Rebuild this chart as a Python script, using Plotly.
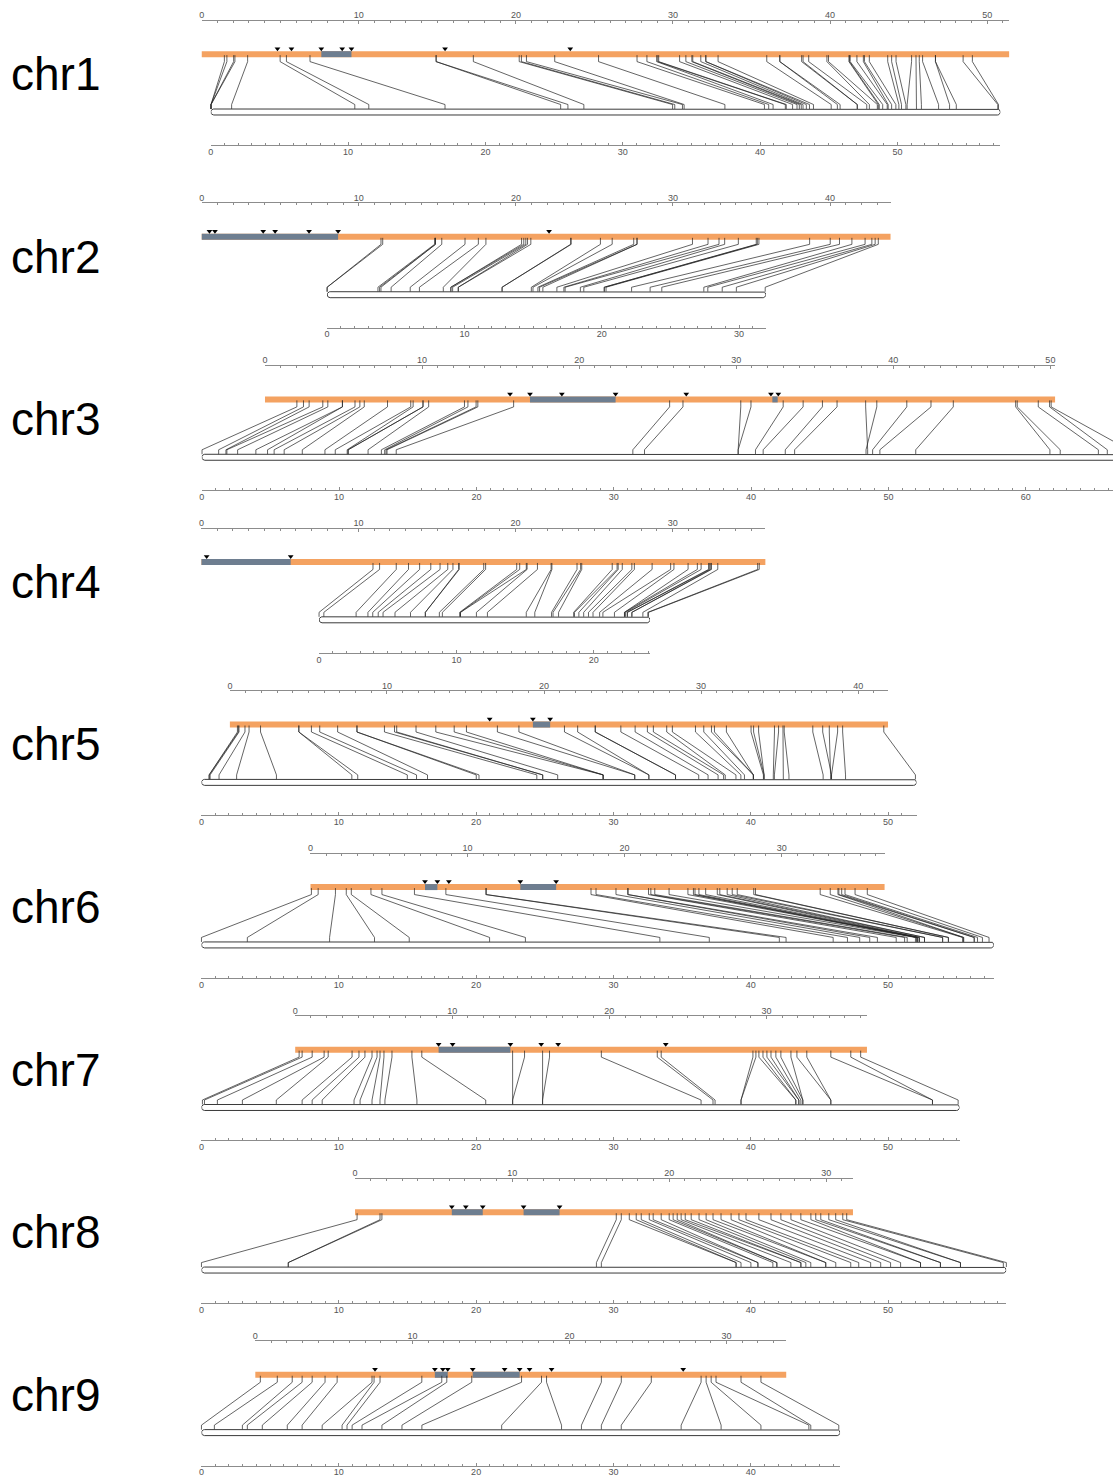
import math
import plotly.graph_objects as go

W, H = 1113, 1477
PX_MB = 15.75   # pixels per Mb on the physical rulers
PX_CM = 13.77   # pixels per cM on the genetic rulers

FONT = "Liberation Sans, Arial, Helvetica, sans-serif"
ORANGE = "#F4A261"
GAP = "#6E7E90"
LINK = "rgba(35,35,35,0.78)"
RULER = "#8c8c8c"

names = ["chr1", "chr2", "chr3", "chr4", "chr5", "chr6", "chr7", "chr8", "chr9"]

# physical length (Mb) and genetic length (cM) of each chromosome
phys_len = [51.4, 43.85, 50.3, 35.9, 41.9, 36.55, 36.4, 31.7, 33.8]
gen_len = [57.5, 31.95, 67.5, 24.1, 52.07, 57.7, 55.2, 58.6, 46.5]

# ---- marker positions: physical (Mb) paired with genetic (cM) ----
chr1_mb = [1.44, 1.60, 2.03, 2.11, 2.92, 4.99, 5.39, 6.89, 14.92, 14.92, 17.29, 20.21, 20.35, 20.67,
           22.47, 25.26, 27.71, 28.34, 28.96, 29.03, 29.09, 30.42, 30.82, 31.20, 31.26, 31.77, 32.09,
           32.09, 32.87, 35.97, 36.80, 36.80, 38.19, 38.28, 38.64, 39.80, 39.90, 41.20, 41.24, 41.28,
           41.71, 42.12, 42.19, 42.50, 43.67, 43.92, 44.20, 45.19, 45.47, 45.68, 45.89, 46.71, 46.71,
           48.47, 49.06]
chr1_cm = [0.02, 0.02, 0.02, 0.02, 1.52, 10.49, 11.51, 17.06, 25.48, 26.01, 27.17, 33.63, 33.79, 34.35,
           34.47, 37.44, 40.32, 40.63, 40.95, 41.84, 41.91, 42.37, 42.69, 42.86, 43.00, 43.13, 43.37,
           43.60, 43.89, 45.18, 45.63, 45.83, 47.08, 47.08, 47.77, 47.96, 48.54, 48.61, 48.68, 48.93,
           49.26, 49.33, 49.58, 49.89, 50.11, 50.30, 50.62, 50.71, 51.39, 51.75, 53.00, 53.80, 54.29,
           57.31, 57.36]
chr1_gaps = [[7.61, 9.53]]
chr1_tri = [4.82, 5.71, 7.61, 8.94, 9.53, 15.49, 23.46]

chr2_mb = [11.41, 11.52, 14.82, 14.88, 14.88, 15.28, 16.76, 17.61, 18.09, 20.36, 20.50, 20.63, 20.74,
           20.95, 23.48, 23.52, 25.38, 26.13, 27.50, 27.71, 27.71, 31.24, 32.23, 32.93, 33.29, 34.16,
           35.30, 35.37, 35.47, 38.70, 40.01, 40.60, 41.39, 42.23, 42.66, 42.87, 43.07]
chr2_cm = [0.0, 0.0, 3.70, 3.82, 3.92, 4.66, 6.05, 6.72, 8.46, 9.01, 9.01, 9.14, 9.55,
           9.55, 12.74, 12.74, 14.87, 14.99, 15.35, 15.47, 15.71, 16.73, 17.24, 17.33, 18.44, 18.69,
           20.18, 20.18, 20.31, 22.17, 23.52, 24.37, 27.43, 27.72, 28.77, 29.80, 31.90]
chr2_gaps = [[0.0, 8.68]]
chr2_tri = [0.49, 0.84, 3.91, 4.67, 6.83, 8.68, 22.11]

chr3_mb = [2.03, 2.45, 2.81, 3.68, 4.00, 4.93, 4.93, 5.73, 6.04, 6.32, 7.80, 9.28, 9.43, 10.06, 10.06,
           10.42, 12.70, 12.92, 13.44, 13.55, 15.83, 25.76, 26.61, 30.29, 30.94, 32.99, 34.26, 35.49,
           36.42, 38.24, 38.95, 40.86, 42.40, 43.82, 47.79, 47.89, 49.23, 49.95, 50.05]
chr3_cm = [0.02, 1.23, 1.76, 1.83, 2.61, 3.94, 4.79, 5.27, 6.00, 7.32, 8.97, 9.72, 10.59, 10.66, 10.66,
           12.11, 13.08, 13.32, 13.42, 13.49, 14.16, 31.39, 32.24, 39.06, 39.06, 40.32, 40.88, 42.49,
           43.17, 48.49, 48.37, 48.85, 49.38, 51.99, 61.76, 62.51, 65.29, 65.94, 67.50]
chr3_gaps = [[16.87, 22.32], [32.30, 32.64]]
chr3_tri = [15.60, 16.87, 18.90, 22.32, 26.82, 32.21, 32.68]

chr4_mb = [10.92, 11.34, 12.40, 13.18, 13.89, 14.60, 15.19, 15.68, 16.01, 16.37, 16.41, 17.97, 18.09,
           20.07, 20.26, 20.68, 20.73, 21.39, 22.26, 22.31, 23.91, 24.14, 24.21, 26.15, 26.46, 26.53,
           26.79, 27.40, 27.56, 28.69, 29.87, 30.08, 30.98, 31.57, 31.81, 32.28, 32.35, 32.42, 32.47,
           32.87, 35.41, 35.51]
chr4_cm = [0.0, 0.35, 2.70, 3.56, 3.91, 4.31, 4.66, 5.53, 6.66, 7.74, 7.74, 8.76, 8.98,
           10.24, 10.30, 10.30, 11.46, 12.26, 15.09, 15.71, 16.93, 17.04, 17.44, 18.54, 18.60, 18.92,
           19.27, 19.62, 19.95, 20.43, 20.67, 21.51, 22.24, 22.24, 22.32, 22.45, 22.45, 22.78, 22.78,
           23.58, 23.94, 23.99]
chr4_gaps = [[0.0, 5.68]]
chr4_tri = [0.33, 5.68]

chr5_mb = [0.48, 0.54, 0.58, 0.96, 1.22, 1.95, 4.39, 4.39, 5.19, 5.72, 6.86, 8.09, 8.09, 9.84, 10.48,
           10.62, 11.85, 13.11, 14.28, 15.06, 17.03, 18.40, 21.30, 22.14, 23.26, 23.26, 24.89, 25.80,
           26.58, 26.96, 27.81, 28.17, 29.64, 30.17, 30.66, 30.85, 31.61, 33.18, 33.34, 33.66, 34.67,
           34.93, 35.21, 35.29, 37.11, 37.74, 38.16, 38.69, 39.01, 41.63]
chr5_cm = [0.56, 0.56, 0.63, 1.28, 2.56, 5.46, 10.95, 11.38, 14.99, 15.66, 16.46, 20.01, 20.21, 24.42,
           24.85, 24.85, 25.94, 29.25, 29.25, 29.25, 31.55, 31.55, 32.58, 32.58, 34.52, 34.52, 36.21,
           36.89, 37.62, 38.02, 38.14, 38.92, 39.28, 39.54, 40.19, 40.19, 40.19, 40.92, 40.97, 40.97,
           41.64, 41.72, 42.37, 42.78, 45.27, 45.88, 45.81, 45.88, 46.90, 51.99]
chr5_gaps = [[19.29, 20.39]]
chr5_tri = [16.54, 19.29, 20.39]

chr6_mb = [0.06, 0.49, 1.59, 2.28, 2.60, 3.85, 4.55, 6.62, 8.62, 11.16, 11.20, 17.86, 18.18, 19.45,
           20.19, 20.23, 21.52, 21.67, 21.92, 22.83, 24.03, 24.38, 24.48, 24.73, 25.16, 25.90, 26.06,
           26.53, 26.85, 27.17, 28.22, 28.33, 32.45, 33.09, 33.58, 33.64, 33.82, 34.03, 34.67, 35.45]
chr6_cm = [0.0, 3.34, 9.33, 12.60, 15.13, 20.98, 23.59, 33.38, 36.98, 42.08, 42.57, 46.00, 47.04, 47.93,
           48.66, 49.22, 50.59, 51.20, 51.39, 51.99, 52.09, 52.09, 52.16, 52.16, 52.28, 52.28, 52.65,
           52.65, 53.97, 53.97, 54.39, 54.39, 55.42, 55.50, 55.50, 56.27, 56.27, 56.51, 56.87, 57.35]
chr6_gaps = [[7.29, 8.08], [13.36, 15.64]]
chr6_tri = [7.29, 8.08, 8.81, 13.36, 15.64]

chr7_mb = [0.25, 0.44, 1.08, 1.84, 2.10, 3.62, 4.06, 4.44, 4.89, 5.21, 5.40, 5.65, 6.16, 7.43, 8.06,
           13.84, 14.60, 15.75, 16.19, 19.49, 23.05, 23.30, 29.14, 29.33, 29.52, 29.78, 30.03,
           30.29, 30.60, 30.92, 31.56, 31.94, 32.57, 34.10, 35.37, 36.00]
chr7_cm = [0.07, 0.22, 1.16, 2.98, 5.45, 7.33, 8.06, 8.79, 11.11, 11.55, 12.42, 13.00, 13.36, 15.69,
           20.70, 22.66, 22.66, 24.84, 24.84, 36.38, 37.25, 37.40, 39.29, 39.29, 43.28, 43.28,
           43.50, 43.50, 43.65, 43.79, 43.79, 45.83, 45.83, 53.23, 53.23, 55.10]
chr7_gaps = [[9.13, 13.70]]
chr7_tri = [9.13, 10.02, 13.70, 15.66, 16.74, 23.59]

chr8_mb = [0.13, 1.59, 1.71, 16.63, 16.95, 17.46, 17.90, 18.22, 18.73, 18.98, 19.49, 20.00,
           20.25, 20.51, 20.76, 21.02, 21.40, 21.90, 22.35, 22.79, 23.30, 23.94, 24.44, 24.89, 25.71,
           26.48, 27.11, 27.75, 28.38, 29.02, 29.33, 29.65, 30.16, 30.60, 31.05, 31.30]
chr8_cm = [0.0, 6.32, 6.32, 28.76, 29.12, 38.93, 38.93, 39.29, 40.01, 40.52, 40.52, 41.61, 41.90,
           41.90, 42.92, 43.65, 43.65, 44.01, 44.37, 45.46, 45.46, 46.19, 47.28, 47.86, 48.73, 49.46,
           50.18, 50.91, 52.36, 52.36, 53.81, 53.81, 55.27, 55.27, 58.39, 58.61]
chr8_gaps = [[6.16, 8.13], [10.73, 13.02]]
chr8_tri = [6.16, 7.05, 8.13, 10.73, 13.02]

chr9_mb = [0.32, 1.40, 2.35, 2.98, 3.62, 4.44, 5.21, 7.43, 7.56, 7.94, 10.60, 11.87, 12.19, 13.78,
           16.95, 18.22, 18.54, 22.03, 23.30, 25.21, 28.38, 28.70, 29.02, 29.33, 30.92, 32.19]
chr9_cm = [0.0, 0.94, 2.98, 3.34, 4.43, 6.25, 7.33, 8.79, 10.24, 10.60, 10.97, 11.69, 13.14, 14.60,
           16.05, 21.86, 26.22, 27.67, 29.12, 30.57, 34.93, 37.84, 40.74, 44.23, 44.37, 46.41]
chr9_gaps = [[11.43, 12.25], [13.84, 16.83]]
chr9_tri = [7.62, 11.43, 11.94, 12.25, 13.84, 15.87, 16.83, 17.46, 18.86, 27.24]

tracks = [
    (chr1_mb, chr1_cm, chr1_gaps, chr1_tri),
    (chr2_mb, chr2_cm, chr2_gaps, chr2_tri),
    (chr3_mb, chr3_cm, chr3_gaps, chr3_tri),
    (chr4_mb, chr4_cm, chr4_gaps, chr4_tri),
    (chr5_mb, chr5_cm, chr5_gaps, chr5_tri),
    (chr6_mb, chr6_cm, chr6_gaps, chr6_tri),
    (chr7_mb, chr7_cm, chr7_gaps, chr7_tri),
    (chr8_mb, chr8_cm, chr8_gaps, chr8_tri),
    (chr9_mb, chr9_cm, chr9_gaps, chr9_tri),
]

# ---- page layout (pixels): bar centre line and left edge of each ruler ----
bar_y = [54.3] + [237.5 + 163.0 * k for k in range(8)]
phys_x0 = [199.3, 199.3, 262.7, 199.0, 227.5, 308.3, 293.0, 353.0, 253.0]
gen_x0 = [208.3, 325.0, 199.3, 316.9, 199.0, 199.0, 199.0, 199.0, 199.0]

TOP_RULER = -34.5   # offsets from the bar centre, px
TICK_TOP = 7.5
TICK_BOT = 50.5
GBAR_TOP = 55.0
GBAR_H = 6.0
BOT_RULER = 91.0


def py(v):
    return 1.0 - v / H


def xid(n):
    return "x" if n == 1 else f"x{n}"


def xkey(n):
    return "xaxis" if n == 1 else f"xaxis{n}"


fig = go.Figure()
layout_axes = {}
annotations = []

ruler_style = dict(
    showline=True, linecolor=RULER, linewidth=1,
    ticks="inside", ticklen=3, tickwidth=1, tickcolor=RULER,
    tick0=0, dtick=10, tickfont=dict(size=9, color="#555555", family=FONT),
    minor=dict(dtick=1, ticks="inside", ticklen=2, tickcolor=RULER, showgrid=False),
    showgrid=False, zeroline=False, fixedrange=True, anchor="free",
)

for i, name in enumerate(names):
    B = bar_y[i]
    p0, g0 = phys_x0[i], gen_x0[i]
    L, G = phys_len[i], gen_len[i]
    mb, cm, gaps, tri = tracks[i]
    nf, nt, nb = 3 * i + 1, 3 * i + 2, 3 * i + 3

    # full-width frame axis in Mb, aligned with the physical ruler
    layout_axes[xkey(nf)] = dict(domain=[0, 1], range=[-p0 / PX_MB, (W - p0) / PX_MB],
                                 visible=False, anchor="y", fixedrange=True)
    # physical ruler (top)
    layout_axes[xkey(nt)] = dict(domain=[p0 / W, (p0 + L * PX_MB) / W], range=[0, L],
                                 side="top", position=py(B + TOP_RULER),
                                 ticklabelstandoff=-2, **ruler_style)
    # genetic ruler (bottom)
    g_end = min(1.0, (g0 + G * PX_CM) / W)
    g_vis = (g_end * W - g0) / PX_CM
    layout_axes[xkey(nb)] = dict(domain=[g0 / W, g_end], range=[0, g_vis],
                                 side="bottom", position=py(B + BOT_RULER),
                                 ticklabelstandoff=-2, **ruler_style)

    def cm_to_frame(c):
        return (g0 - p0 + c * PX_CM) / PX_MB

    # physical chromosome bar
    fig.add_trace(go.Scatter(x=[0, L], y=[B, B], mode="lines", xaxis=xid(nf), yaxis="y",
                             line=dict(color=ORANGE, width=6), hoverinfo="skip", showlegend=False))
    gx, gy = [], []
    for s, e in gaps:
        gx += [s, e, None]
        gy += [B, B, None]
    fig.add_trace(go.Scatter(x=gx, y=gy, mode="lines", xaxis=xid(nf), yaxis="y",
                             line=dict(color=GAP, width=6), hoverinfo="skip", showlegend=False))

    # marker links: tick under the bar, diagonal, tick on the genetic map
    lx, ly = [], []
    for m, c in zip(mb, cm):
        ge = cm_to_frame(c)
        lx += [m, m, ge, ge, None]
        ly += [B + 1, B + TICK_TOP, B + TICK_BOT, B + GBAR_TOP, None]
    fig.add_trace(go.Scatter(x=lx, y=ly, mode="lines", xaxis=xid(nf), yaxis="y",
                             line=dict(color=LINK, width=0.9), hoverinfo="skip", showlegend=False))

    # gap / contig boundary markers
    fig.add_trace(go.Scatter(x=tri, y=[B - 5.5] * len(tri), mode="markers", xaxis=xid(nt), yaxis="y",
                             marker=dict(symbol="triangle-down", size=5, color="black"),
                             hoverinfo="skip", showlegend=False))

    # genetic map bar: outline with rounded ends
    r_px = GBAR_H / 2
    rx = r_px / PX_CM
    yc = B + GBAR_TOP + r_px
    bx, by = [rx, G - rx], [yc - r_px, yc - r_px]
    steps = 12
    for k in range(steps + 1):
        a = -math.pi / 2 + math.pi * k / steps
        bx.append(G - rx + rx * math.cos(a))
        by.append(yc + r_px * math.sin(a))
    bx += [rx]
    by += [yc + r_px]
    for k in range(steps + 1):
        a = math.pi / 2 + math.pi * k / steps
        bx.append(rx + rx * math.cos(a))
        by.append(yc + r_px * math.sin(a))
    fig.add_trace(go.Scatter(x=bx, y=by, mode="lines", xaxis=xid(nb), yaxis="y",
                             line=dict(color="#3a3a3a", width=1), hoverinfo="skip", showlegend=False))

    annotations.append(dict(text=name, x=6 / W, y=py(B + 20), xref="paper", yref="paper",
                            xanchor="left", yanchor="middle", showarrow=False,
                            font=dict(size=46, color="black", family=FONT)))

fig.update_layout(
    width=W, height=H,
    margin=dict(l=0, r=0, t=0, b=0),
    paper_bgcolor="white", plot_bgcolor="rgba(0,0,0,0)",
    yaxis=dict(domain=[0, 1], range=[H, 0], visible=False, fixedrange=True),
    annotations=annotations,
    showlegend=False,
    **layout_axes,
)

fig.write_html("out.html")
